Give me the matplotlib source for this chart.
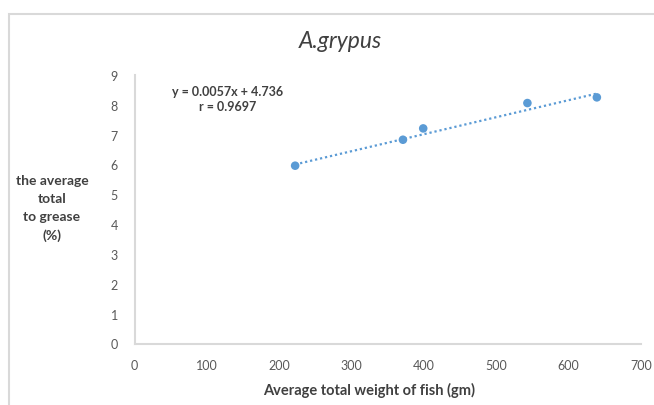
import matplotlib
matplotlib.use("Agg")
import matplotlib.pyplot as plt
from matplotlib.patches import Rectangle
import numpy as np

# Data
weight = [222, 371, 399, 543, 639]
grease = [5.96, 6.83, 7.21, 8.06, 8.25]
slope = 0.0057
intercept = 4.736
eq_text = "y = 0.0057x + 4.736\nr = 0.9697"
title = "A.grypus"
xlabel = "Average total weight of fish (gm)"
ylabel = "the average\ntotal\nto grease\n(%)"
xticks = [0, 100, 200, 300, 400, 500, 600, 700]
yticks = [0, 1, 2, 3, 4, 5, 6, 7, 8, 9]

W, H = 654, 406
fig = plt.figure(figsize=(W / 100, H / 100), dpi=100)
plt.rcParams['font.family'] = ['Lato', 'DejaVu Sans']

# chart-area border
fig.patches.append(Rectangle((9 / W, -0.1), 1.2, 1.0 - 14.5 / H + 0.1,
                             transform=fig.transFigure, fill=False,
                             edgecolor='#d9d9d9', lw=1.5, zorder=0))

ax = fig.add_axes([134.5 / W, 1 - 344.5 / H, (641 - 134.5) / W, (344.5 - 76) / H])
blue = '#5B9BD5'
ax.scatter(weight, grease, s=38, color=blue, zorder=3, edgecolors='none')
xt = np.array([min(weight), max(weight)])
ax.plot(xt, slope * xt + intercept, color=blue, lw=1.6,
        linestyle=(0, (1, 1.3)), zorder=2)

ax.set_xlim(0, 700)
ax.set_ylim(0, 9)
ax.set_xticks(xticks)
ax.set_yticks(yticks)
ax.tick_params(length=0, labelsize=9, colors='#595959')
ax.tick_params(axis='x', pad=11)
ax.tick_params(axis='y', pad=12)
for s in ['top', 'right']:
    ax.spines[s].set_visible(False)
for s in ['left', 'bottom']:
    ax.spines[s].set_color('#d9d9d9')
    ax.spines[s].set_linewidth(1.5)

fig.text(340 / W, 1 - 42 / H, title, ha='center', va='center',
         fontsize=16.5, style='italic', color='#404040')
fig.text(369 / W, 1 - 390 / H, xlabel, ha='center', va='center',
         fontsize=10.5, fontweight='bold', color='#404040')
fig.text(52 / W, 1 - 209 / H, ylabel, ha='center', va='center',
         fontsize=10, fontweight='bold', color='#404040', linespacing=1.6)
fig.text(228 / W, 1 - 99.5 / H, eq_text, ha='center', va='center',
         fontsize=9, fontweight='bold', color='#404040', linespacing=1.25)

fig.savefig('out.png', dpi=100, facecolor='white')
